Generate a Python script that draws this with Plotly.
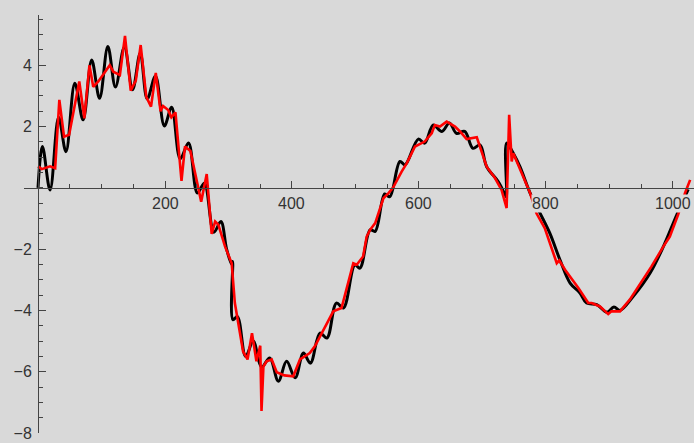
import plotly.graph_objects as go

# ---- data ----
black_x = [0, 7, 19, 32.5, 44, 58, 71, 84.5, 97, 110, 122, 136, 149, 161, 172, 185, 199, 210.5,
           224, 237, 251, 262, 277, 288, 297, 305, 306.5, 307, 314, 327, 339, 352, 365, 378.5,
           391.5, 405, 418, 429, 444, 455, 470, 481, 499, 507, 523, 531, 546, 554, 570, 578,
           599, 609, 622.5, 636, 648, 659, 672, 685, 696, 706.6, 725, 735, 737.5, 738, 748.5,
           759, 775, 790, 806, 822, 838, 853.5, 864, 880, 896, 907, 916.5, 937.5, 964, 985,
           1006, 1024]
black_y = [0.0, 1.35, -0.07, 2.3, 1.18, 3.41, 2.22, 4.17, 2.92, 4.61, 3.29, 4.6, 3.2, 4.4, 2.9,
           3.65, 2.02, 2.63, 0.95, 1.46, -0.17, 0.15, -1.45, -1.1, -2.0, -2.5, -2.4, -4.3, -4.2,
           -5.5, -5.0, -5.85, -5.55, -6.31, -5.66, -6.2, -5.39, -5.72, -4.74, -4.9, -3.76,
           -3.92, -2.51, -2.62, -1.37, -1.42, -0.2, -0.29, 0.86, 0.75, 1.59, 1.46, 2.05, 1.84,
           2.12, 1.78, 1.84, 1.29, 1.4, 0.69, 0.2, -0.2, -0.3, 1.46, 1.13, 0.69, -0.17, -0.8,
           -1.48, -2.35, -3.11, -3.43, -3.76, -3.81, -4.06, -3.89, -4.0, -3.54, -2.78, -1.91,
           -0.88, -0.05]

red_x = [0, 6, 19, 27, 33.6, 41, 49, 65, 73, 81, 87, 95, 113, 118.6, 129, 137, 146, 154, 161.7,
         170.5, 178, 185.5, 193, 197, 205, 210, 216.5, 226, 231.5, 240, 257, 265.7, 273.5, 279,
         284, 294.5, 305, 310, 323, 330, 337, 344, 350, 352, 355, 360, 368, 376, 388, 402,
         412.6, 428, 436, 452, 465, 478, 496.5, 502, 512, 517.6, 523, 531, 544, 552, 559,
         572.7, 580.6, 593.7, 609, 620, 625, 633, 643.6, 656.7, 664.6, 675, 691, 706.6, 719.7,
         730, 738, 742, 746, 748.5, 759, 775, 785, 798, 817, 821, 830, 851, 866.6, 872, 885,
         898, 903, 916.5, 932, 953, 966, 985, 995, 1008, 1019, 1027]
red_y = [0.70, 0.61, 0.70, 0.64, 2.87, 1.67, 1.73, 3.47, 2.27, 4.00, 3.30, 3.47, 4.00, 3.79,
         3.68, 4.96, 3.17, 3.50, 4.66, 2.97, 2.65, 3.75, 2.50, 2.67, 2.54, 2.30, 2.46, 0.23,
         1.35, 1.20, -0.45, 0.45, -1.50, -1.10, -1.20, -1.91, -2.46, -3.76, -5.34, -5.60,
         -4.74, -5.66, -5.15, -7.28, -5.83, -5.66, -5.60, -6.02, -6.12, -6.15, -5.60, -5.39,
         -5.17, -4.52, -4.03, -3.92, -2.46, -2.51, -2.24, -1.59, -1.37, -1.15, -0.34, -0.17,
         0.0, 0.53, 0.80, 1.35, 1.51, 1.78, 2.05, 2.00, 2.16, 2.00, 1.84, 1.59, 1.65, 0.69,
         0.32, -0.07, -0.66, 2.38, 0.86, 1.13, 0.59, -0.17, -0.83, -1.31, -2.46, -2.37, -2.67,
         -3.27, -3.76, -3.76, -3.87, -4.12, -4.03, -4.03, -3.65, -3.00, -2.57, -1.91, -1.59,
         -0.88, -0.17, 0.26]

x_tick_values = [200, 400, 600, 800, 1000]
x_tick_labels = ["200", "400", "600", "800", "1000"]
y_tick_values = [-8, -6, -4, -2, 2, 4]

BG = "#d9d9d9"
AX = "#444444"
FONT = "Liberation Sans, Arial, sans-serif"

fig = go.Figure()
fig.add_trace(go.Scatter(x=black_x, y=black_y, mode="lines",
                         line=dict(color="black", width=3, shape="spline", smoothing=1.0),
                         hoverinfo="skip", showlegend=False))
fig.add_trace(go.Scatter(x=red_x, y=red_y, mode="lines",
                         line=dict(color="#ff0000", width=2.6),
                         hoverinfo="skip", showlegend=False))

for v, t in zip(x_tick_values, x_tick_labels):
    fig.add_annotation(x=v, y=0, xref="x", yref="y", text=t, showarrow=False,
                       yshift=-16, bgcolor=BG, borderpad=0,
                       font=dict(size=16, color="#333333", family=FONT))

fig.update_layout(
    width=694, height=443,
    margin=dict(l=0, r=0, t=0, b=0, autoexpand=False),
    paper_bgcolor=BG, plot_bgcolor=BG,
    xaxis=dict(range=[-22.05, 1033.1], domain=[24 / 694, 1.0], anchor="free",
               position=(443 - 188) / 443, automargin=False,
               showgrid=False, zeroline=False, showline=True, linecolor=AX, linewidth=1,
               ticks="inside", ticklen=7, tickcolor=AX, tick0=0, dtick=200,
               showticklabels=False,
               minor=dict(ticks="inside", ticklen=4, tickcolor=AX, tick0=0, dtick=50)),
    yaxis=dict(range=[-8.0, 5.65], domain=[10 / 443, 428.3 / 443], anchor="free",
               position=38 / 694, automargin=False,
               showgrid=False, zeroline=False, showline=True, linecolor=AX, linewidth=1,
               ticks="inside", ticklen=7, tickcolor=AX, tickvals=y_tick_values,
               ticklabelstandoff=3,
               tickfont=dict(size=16, color="#333333", family=FONT),
               minor=dict(ticks="inside", ticklen=4, tickcolor=AX, tick0=0, dtick=0.5)),
)

fig.write_html("out.html")
